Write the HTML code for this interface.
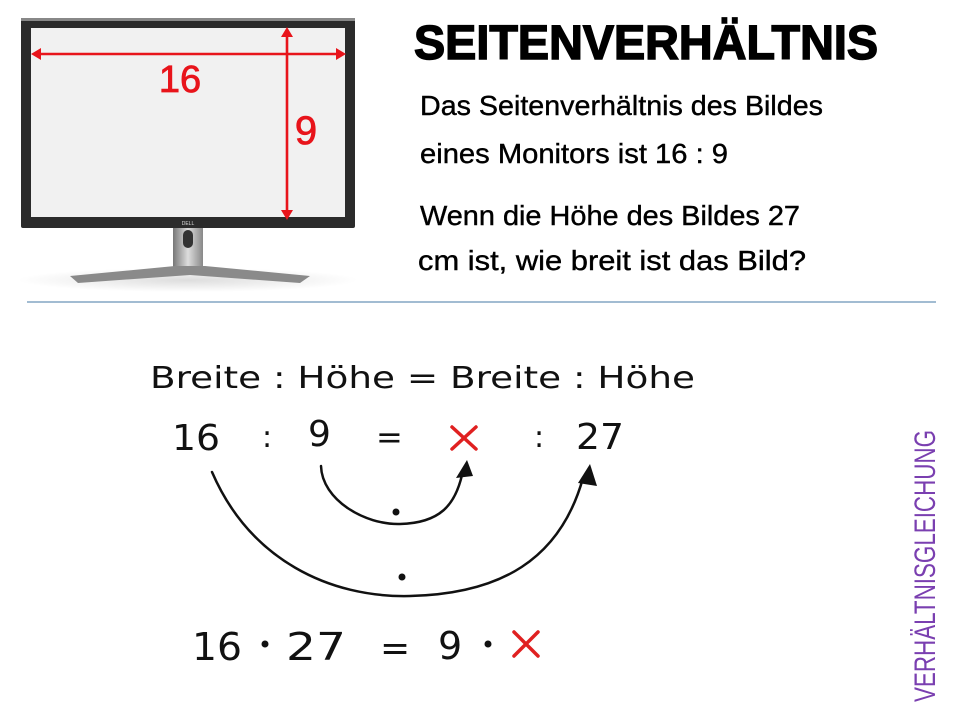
<!DOCTYPE html>
<html><head><meta charset="utf-8"><style>
html,body{margin:0;padding:0;background:#fff;}
svg{display:block;}
</style></head><body>
<svg width="960" height="720" viewBox="0 0 960 720" xmlns="http://www.w3.org/2000/svg">
<defs>
<linearGradient id="neck" x1="0" x2="1"><stop offset="0" stop-color="#777"/><stop offset="0.5" stop-color="#ddd"/><stop offset="1" stop-color="#888"/></linearGradient>
<radialGradient id="shadow" cx="0.5" cy="0.5" r="0.5"><stop offset="0" stop-color="#ddd"/><stop offset="1" stop-color="#fff"/></radialGradient>
</defs>
<ellipse cx="188" cy="280" rx="170" ry="12" fill="url(#shadow)"/>
<rect x="21" y="18" width="334" height="210" rx="2" fill="#2b2b2b"/>
<rect x="21" y="18" width="334" height="3" fill="#888"/>
<rect x="31" y="28" width="314" height="189" fill="#f1f1f1"/>
<text x="188" y="225" font-family="Liberation Sans,sans-serif" font-size="5" fill="#ddd" text-anchor="middle">DELL</text>
<rect x="173" y="228" width="30" height="42" fill="url(#neck)"/>
<rect x="183" y="230" width="10" height="18" rx="5" fill="#333"/>
<path d="M70 276 L175 266 L205 266 L310 276 L300 283 L190 275 L78 283 Z" fill="#8a8a8a"/>
<g stroke="#e8141b" stroke-width="2.6" fill="#e8141b">
<line x1="36" y1="54" x2="340" y2="54"/>
<line x1="287" y1="32" x2="287" y2="214"/>
</g>
<g fill="#e8141b">
<polygon points="31,54 41,48 41,60"/><polygon points="346,54 336,48 336,60"/>
<polygon points="287,27 281,37 293,37"/><polygon points="287,220 281,210 293,210"/>
</g>
<text x="180" y="92" font-family="Liberation Sans,sans-serif" font-size="38" fill="#e8141b" text-anchor="middle" stroke="#e8141b" stroke-width="0.8">16</text>
<text x="306" y="144" font-family="Liberation Sans,sans-serif" font-size="40" fill="#e8141b" text-anchor="middle" stroke="#e8141b" stroke-width="0.8">9</text>
<text x="414" y="59" font-family="Liberation Sans,sans-serif" font-weight="bold" font-size="48" textLength="464" lengthAdjust="spacingAndGlyphs" stroke="#000" stroke-width="1.5">SEITENVERHÄLTNIS</text>
<g font-family="Liberation Sans Narrow,Liberation Sans,sans-serif" font-size="28" fill="#000" stroke="#000" stroke-width="0.4">
<text x="420" y="115" textLength="403" lengthAdjust="spacingAndGlyphs">Das Seitenverhältnis des Bildes</text>
<text x="420" y="163" textLength="308" lengthAdjust="spacingAndGlyphs">eines Monitors ist 16 : 9</text>
<text x="420" y="225" textLength="380" lengthAdjust="spacingAndGlyphs">Wenn die Höhe des Bildes 27</text>
<text x="418" y="270" textLength="388" lengthAdjust="spacingAndGlyphs">cm ist, wie breit ist das Bild?</text>
</g>
<line x1="27" y1="302" x2="936" y2="302" stroke="#6a93b8" stroke-width="1.2"/>
<g font-family="DejaVu Sans,sans-serif" fill="#111">
<text x="150" y="388" font-size="30" textLength="545" lengthAdjust="spacingAndGlyphs">Breite : Höhe = Breite : Höhe</text>
<text x="172" y="450" font-size="36" textLength="48" lengthAdjust="spacingAndGlyphs">16</text>
<text x="262" y="447" font-size="30">:</text>
<text x="308" y="446" font-size="36">9</text>
<text x="376" y="448" font-size="32">=</text>
<text x="534" y="447" font-size="30">:</text>
<text x="576" y="449" font-size="36" textLength="48" lengthAdjust="spacingAndGlyphs">27</text>
<text x="192" y="660" font-size="38" textLength="50" lengthAdjust="spacingAndGlyphs">16</text>
<circle cx="265" cy="644" r="3.5"/>
<text x="286" y="660" font-size="38" textLength="60" lengthAdjust="spacingAndGlyphs">27</text>
<text x="380" y="660" font-size="36">=</text>
<text x="438" y="659" font-size="38">9</text>
<circle cx="488" cy="644" r="3.5"/>
<circle cx="396" cy="512" r="3.5"/>
<circle cx="402" cy="577" r="3.5"/>
</g>
<g stroke="#e02020" stroke-width="3.5" stroke-linecap="round">
<line x1="452" y1="427" x2="476" y2="449"/><line x1="476" y1="427" x2="452" y2="449"/>
<line x1="514" y1="632" x2="538" y2="656"/><line x1="538" y1="632" x2="514" y2="656"/>
</g>
<g stroke="#111" stroke-width="2.5" fill="none" stroke-linecap="round">
<path d="M321 466 C322 500 365 525 400 524 C440 523 455 505 462 475"/>
<path d="M212 472 C250 560 330 598 410 596 C500 594 560 560 583 478"/>
</g>
<g fill="#111">
<polygon points="467,460 456,478 473,476"/>
<polygon points="590,464 578,483 597,486"/>
</g>
<text transform="translate(935,702) rotate(-90)" font-family="Liberation Sans Narrow,Liberation Sans,sans-serif" font-size="30" fill="#7a3fb0" textLength="272" lengthAdjust="spacingAndGlyphs">VERHÄLTNISGLEICHUNG</text>
</svg>
</body></html>
